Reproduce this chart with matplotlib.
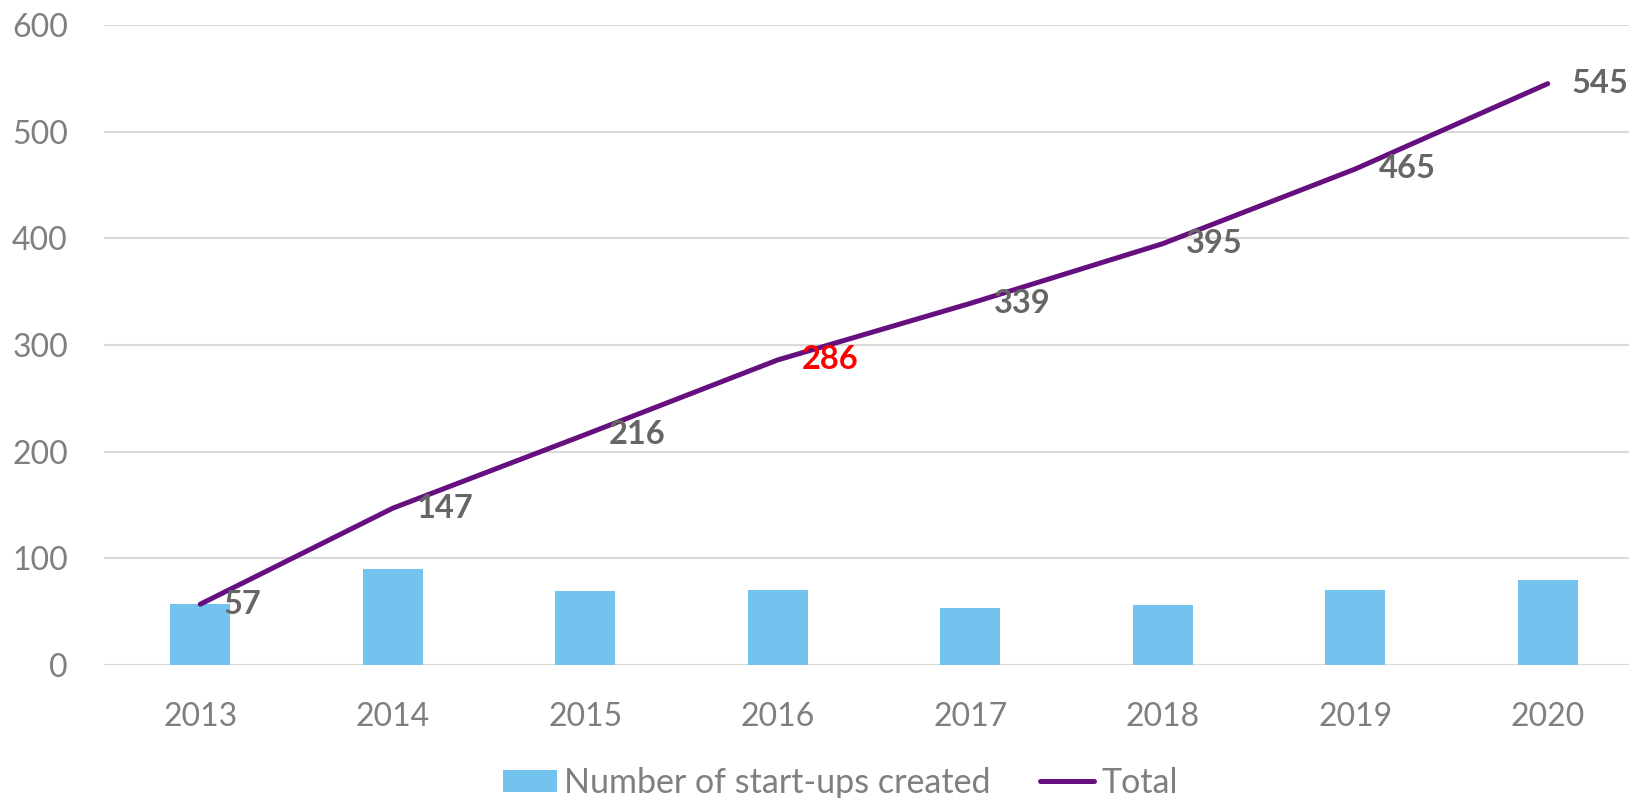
import matplotlib.pyplot as plt
import numpy as np

years = ['2013', '2014', '2015', '2016', '2017', '2018', '2019', '2020']
created = [57, 90, 69, 70, 53, 56, 70, 80]
total = [57, 147, 216, 286, 339, 395, 465, 545]
label_colors = ['#666666', '#666666', '#666666', '#FF0000', '#666666', '#666666', '#666666', '#666666']

plt.rcParams['font.family'] = ['Lato', 'DejaVu Sans']

fig = plt.figure(figsize=(16.29, 7.98), dpi=100)
ax = fig.add_axes([104 / 1629, 1 - 665 / 798, 1540 / 1629, 640 / 798])

x = np.arange(len(years))
bars = ax.bar(x, created, width=0.31, color='#74C3EE', zorder=2,
              label='Number of start-ups created')
line, = ax.plot(x, total, color='#66107F', lw=3.6, solid_capstyle='round',
                solid_joinstyle='round', zorder=3, label='Total')

# data labels to the right of each point
for xi, v, c in zip(x, total, label_colors):
    ax.annotate(str(v), (xi, v), xytext=(17, 0), textcoords='offset points',
                ha='left', va='center', fontsize=23.5, fontweight='bold', color=c,
                zorder=4)

ax.set_xlim(-0.5, len(years) - 0.5)
ax.set_ylim(0, 600)
ax.set_yticks(range(0, 601, 100))
ax.set_xticks(x)
ax.set_xticklabels(years)
ax.grid(axis='y', color='#D9D9D9', lw=1.5, zorder=0)
ax.set_axisbelow(True)
for s in ax.spines.values():
    s.set_visible(False)
ax.tick_params(axis='both', length=0, labelsize=23, labelcolor='#7F7F7F')
ax.tick_params(axis='y', pad=26)
ax.tick_params(axis='x', pad=27)
for lab in ax.get_yticklabels() + ax.get_xticklabels():
    lab.set_clip_on(False)

leg = fig.legend(handles=[bars, line], loc='center', bbox_to_anchor=(0.516, 0.019),
                 ncol=2, frameon=False, fontsize=24.5, labelcolor='#7F7F7F',
                 handlelength=1.58, handleheight=0.6, handletextpad=0.23,
                 columnspacing=1.45, borderpad=0, borderaxespad=0)

fig.savefig('out.png', dpi=100, facecolor='white')
